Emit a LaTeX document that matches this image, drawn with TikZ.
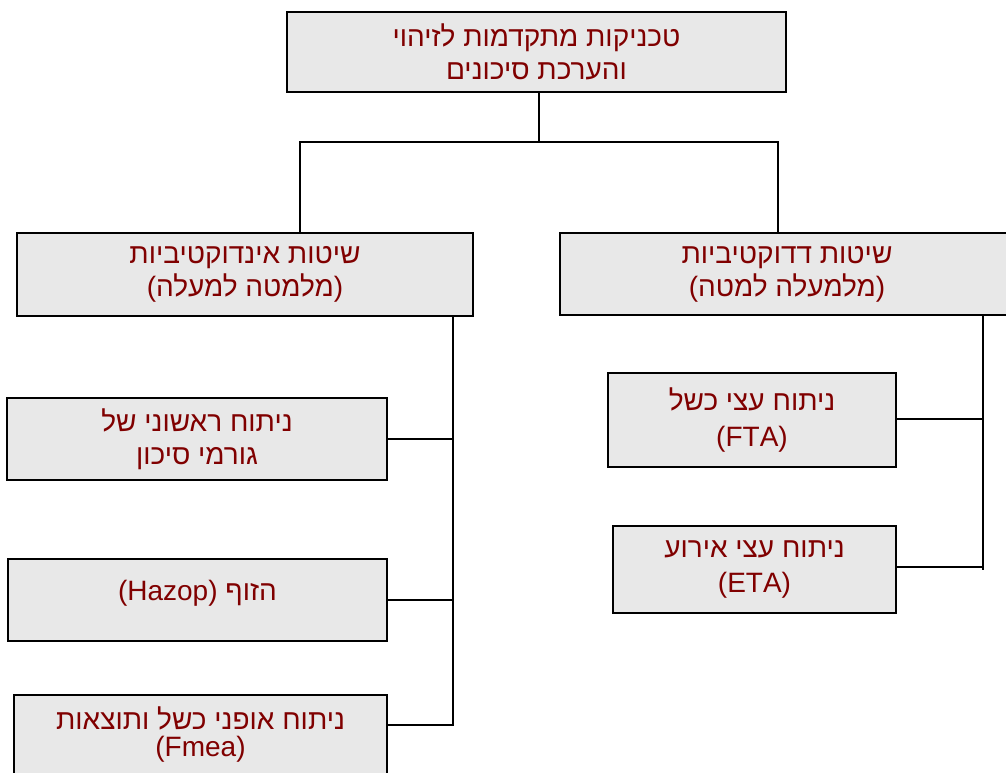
\documentclass[tikz,border=0pt]{standalone}
\usepackage{fontspec}
\setmainfont{Liberation Sans}
\newfontfamily\hebfont[Script=Hebrew]{Liberation Sans}
\TeXXeTstate=1

\definecolor{boxfill}{RGB}{232,232,232}
\definecolor{labelred}{RGB}{128,0,0}

\tikzset{
  box/.style={draw=black, line width=1.6pt, fill=boxfill, text=labelred,
    align=center, inner sep=0pt, rectangle,
    font=\hebfont\fontsize{28}{33}\selectfont},
  link/.style={draw=black, line width=1.6pt, line cap=rect},
}

\begin{document}
\begin{tikzpicture}[x=1pt, y=-1pt]
  \useasboundingbox (0,0) rectangle (1006,772);
  \clip (0,0) rectangle (1006,772);

  % root
  \node[box, minimum width=499, minimum height=80] (root) at (536.5,52)
    {\beginR טכניקות מתקדמות לזיהוי\endR\\\beginR והערכת סיכונים\endR};

  % two families of methods
  \node[box, minimum width=456, minimum height=83] (ind) at (245,274.5)
    {\beginR שיטות אינדוקטיביות\endR\\\beginR (מלמטה למעלה)\endR};
  \node[box, minimum width=454, minimum height=82] (ded) at (787,274)
    {\beginR שיטות דדוקטיביות\endR\\\beginR (מלמעלה למטה)\endR};

  % deductive techniques
  \node[box, minimum width=288, minimum height=94,
        font=\hebfont\fontsize{28}{36}\selectfont] (fta) at (752,420)
    {\beginR ניתוח עצי כשל\endR\\(FTA)};
  \node[box, minimum width=283, minimum height=87,
        font=\hebfont\fontsize{28}{35}\selectfont] (eta) at (754.5,569.5)
    {\beginR ניתוח עצי אירוע\endR\\(ETA)};

  % inductive techniques
  \node[box, minimum width=380, minimum height=82] (pha) at (197,439)
    {\beginR ניתוח ראשוני של\endR\\\beginR גורמי סיכון\endR};
  \node[box, minimum width=379, minimum height=82,
        font=\hebfont\fontsize{28}{20}\selectfont] (hazop) at (197.5,600)
    {\beginR הזוף \beginL(Hazop)\endL\endR\\\mbox{}};
  \node[box, minimum width=373, minimum height=80,
        font=\hebfont\fontsize{28}{27}\selectfont] (fmea) at (200.5,735)
    {\beginR ניתוח אופני כשל ותוצאות\endR\\(Fmea)};

  % junction points
  \coordinate (rootJoin) at (539,142);
  \coordinate (barL) at (300,142);
  \coordinate (barR) at (778,142);
  \coordinate (spineL) at (453,142);
  \coordinate (spineR) at (983,142);
  \coordinate (fmeaJoin) at (453,725);

  % root to families
  \draw[link] (root.south -| rootJoin) -- (rootJoin);
  \draw[link] (ind.north -| barL) -- (barL) -- (barR) -- (ded.north -| barR);

  % inductive spine
  \draw[link] (ind.south -| spineL) -- (fmeaJoin);
  \draw[link] (pha.east) -- (pha.east -| spineL);
  \draw[link] (hazop.east) -- (hazop.east -| spineL);
  \draw[link] (fmeaJoin -| fmea.east) -- (fmeaJoin);

  % deductive spine
  \draw[link] (ded.south -| spineR) -- (eta.east -| spineR);
  \draw[link] ([yshift=1pt]fta.east) -- ([yshift=1pt]fta.east -| spineR);
  \draw[link] ([yshift=2.5pt]eta.east) -- ([yshift=2.5pt]eta.east -| spineR);
\end{tikzpicture}
\end{document}
